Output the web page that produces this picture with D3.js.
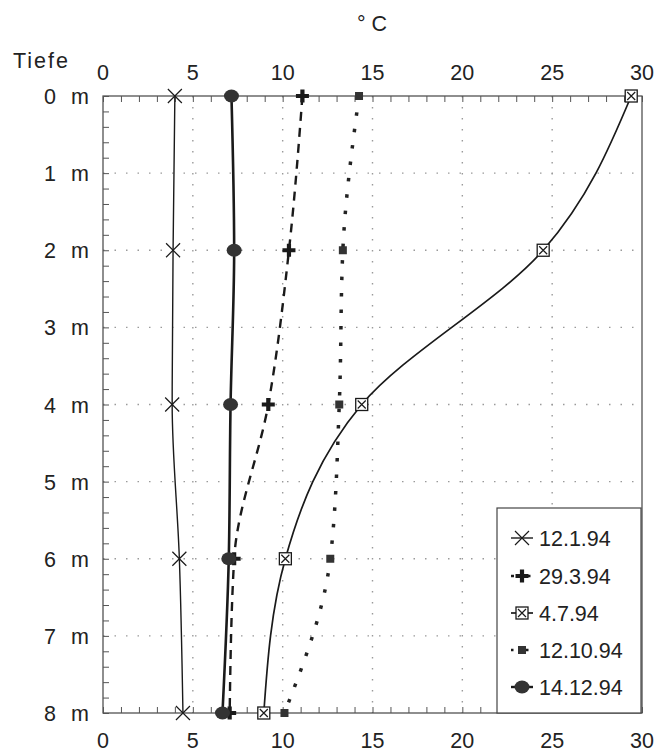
<!DOCTYPE html>
<html>
<head>
<meta charset="utf-8">
<script src="https://cdn.jsdelivr.net/npm/d3@7"></script>
<style>
  html, body { margin: 0; padding: 0; background: #fff; }
  text { font-family: "Liberation Sans", Arial, Helvetica, sans-serif; fill: #222; }
</style>
</head>
<body>
<svg id="chart" width="668" height="754"></svg>
<script>
// ---- data ----
const depths = [0, 2, 4, 6, 8];
const seriesNames = ["12.1.94", "29.3.94", "4.7.94", "12.10.94", "14.12.94"];
const t_12_1_94  = [4.0, 3.9, 3.85, 4.25, 4.45];
const t_29_3_94  = [11.1, 10.35, 9.2, 7.3, 7.05];
const t_4_7_94   = [29.4, 24.5, 14.4, 10.15, 8.95];
const t_12_10_94 = [14.25, 13.35, 13.15, 12.65, 10.1];
const t_14_12_94 = [7.15, 7.3, 7.1, 7.0, 6.65];
const xTickLabels = [0, 5, 10, 15, 20, 25, 30];
const depthTickLabels = [0, 1, 2, 3, 4, 5, 6, 7, 8];
const unitLabel = "° C";
const depthTitle = "Tiefe";

// ---- setup ----
const svg = d3.select("#chart");
const x = d3.scaleLinear().domain([0, 30]).range([103, 642]);
const y = d3.scaleLinear().domain([0, 8]).range([96, 713]);
const ink = "#1a1a1a";

// grid
const grid = svg.append("g");
grid.selectAll("line.v").data([5, 10, 15, 20, 25]).join("line")
  .attr("x1", d => x(d)).attr("x2", d => x(d))
  .attr("y1", y(0)).attr("y2", y(8))
  .attr("stroke", "#9a9a9a").attr("stroke-width", 1.4)
  .attr("stroke-dasharray", "1.5,9.5");
grid.selectAll("line.h").data([1, 2, 3, 4, 5, 6, 7]).join("line")
  .attr("x1", x(0)).attr("x2", x(30))
  .attr("y1", d => y(d)).attr("y2", d => y(d))
  .attr("stroke", "#9a9a9a").attr("stroke-width", 1.4)
  .attr("stroke-dasharray", "1.5,10");

// frame
svg.append("rect")
  .attr("x", x(0)).attr("y", y(0))
  .attr("width", x(30) - x(0)).attr("height", y(8) - y(0))
  .attr("fill", "none").attr("stroke", "#444").attr("stroke-width", 1.2);

// minor ticks (inward)
function styleAxis(g) {
  g.select(".domain").remove();
  g.selectAll(".tick line").attr("stroke", "#555").attr("stroke-width", 1);
}
svg.append("g").attr("transform", `translate(0,${y(0)})`)
  .call(d3.axisTop(x).tickValues(d3.range(0, 31, 1)).tickSize(-6).tickFormat(""))
  .call(styleAxis);
svg.append("g").attr("transform", `translate(0,${y(8)})`)
  .call(d3.axisBottom(x).tickValues(d3.range(0, 31, 1)).tickSize(-6).tickFormat(""))
  .call(styleAxis);
svg.append("g").attr("transform", `translate(${x(0)},0)`)
  .call(d3.axisLeft(y).tickValues(d3.range(0, 41, 1).map(i => i * 0.2)).tickSize(-6).tickFormat(""))
  .call(styleAxis);

// tick labels
const fs = 21.5;
svg.append("g").selectAll("text").data(xTickLabels).join("text")
  .attr("x", d => x(d)).attr("y", 80)
  .attr("text-anchor", "middle").attr("font-size", fs).text(d => d);
svg.append("g").selectAll("text").data(xTickLabels).join("text")
  .attr("x", d => x(d)).attr("y", 748)
  .attr("text-anchor", "middle").attr("font-size", fs).text(d => d);
const dl = svg.append("g").selectAll("g").data(depthTickLabels).join("g");
dl.append("text").attr("x", 56).attr("y", d => y(d) + 8)
  .attr("text-anchor", "end").attr("font-size", fs).text(d => d);
dl.append("text").attr("x", 71).attr("y", d => y(d) + 8)
  .attr("text-anchor", "start").attr("font-size", fs).attr("textLength", 24).text("m");

svg.append("text").attr("x", 372).attr("y", 31).attr("text-anchor", "middle")
  .attr("font-size", fs).text(unitLabel);
svg.append("text").attr("x", 13).attr("y", 68).attr("font-size", fs)
  .attr("textLength", 55).text(depthTitle);

// ---- series ----
const series = [
  { name: seriesNames[0], vals: t_12_1_94,  width: 1.4, dash: null,      marker: "x" },
  { name: seriesNames[1], vals: t_29_3_94,  width: 2.4, dash: "9,7",     marker: "plus" },
  { name: seriesNames[2], vals: t_4_7_94,   width: 1.7, dash: null,      marker: "boxx" },
  { name: seriesNames[3], vals: t_12_10_94, width: 3.5, dash: "3.5,13",  marker: "sq" },
  { name: seriesNames[4], vals: t_14_12_94, width: 2.6, dash: null,      marker: "dot" }
];

const line = d3.line()
  .x(d => x(d.t)).y(d => y(d.d))
  .curve(d3.curveMonotoneY);

function drawMarker(g, type, cx, cy) {
  const m = g.append("g").attr("transform", `translate(${cx},${cy})`);
  if (type === "x") {
    m.append("path").attr("d", "M-7,-7L7,7M-7,7L7,-7")
      .attr("stroke", ink).attr("stroke-width", 1.2).attr("fill", "none");
  } else if (type === "plus") {
    m.append("path").attr("d", "M-6.5,0H6.5M0,-6.5V6.5")
      .attr("stroke", ink).attr("stroke-width", 4.2).attr("fill", "none");
  } else if (type === "boxx") {
    m.append("rect").attr("x", -6).attr("y", -6).attr("width", 12).attr("height", 12)
      .attr("fill", "#fff").attr("stroke", ink).attr("stroke-width", 1.3);
    m.append("path").attr("d", "M-4,-4L4,4M-4,4L4,-4")
      .attr("stroke", ink).attr("stroke-width", 1.2);
  } else if (type === "sq") {
    m.append("rect").attr("x", -4).attr("y", -4).attr("width", 8).attr("height", 8)
      .attr("fill", "#333");
  } else if (type === "dot") {
    m.append("ellipse").attr("rx", 7.5).attr("ry", 6.5).attr("fill", "#333");
  }
}

const sg = svg.append("g");
series.forEach(s => {
  const pts = depths.map((d, i) => ({ d: d, t: s.vals[i] }));
  sg.append("path").datum(pts).attr("d", line)
    .attr("fill", "none").attr("stroke", s.marker === "sq" ? "#222" : ink)
    .attr("stroke-width", s.width)
    .attr("stroke-dasharray", s.dash);
});
series.forEach(s => {
  depths.forEach((d, i) => drawMarker(sg, s.marker, x(s.vals[i]), y(d)));
});

// ---- legend ----
const lg = svg.append("g");
lg.append("rect").attr("x", 497).attr("y", 508).attr("width", 144).attr("height", 205)
  .attr("fill", "#fff").attr("stroke", "#444").attr("stroke-width", 1.2);
const ly = [538, 576, 613, 650, 687];
series.forEach((s, i) => {
  lg.append("line").attr("x1", 511).attr("x2", 533).attr("y1", ly[i]).attr("y2", ly[i])
    .attr("stroke", ink).attr("stroke-width", Math.min(s.width, 2.4))
    .attr("stroke-dasharray", s.marker === "sq" ? "2.5,5" : (s.dash ? "3,2.5" : null));
  drawMarker(lg, s.marker, 522, ly[i]);
  lg.append("text").attr("x", 539).attr("y", ly[i] + 8).attr("font-size", fs).text(s.name);
});
</script>
</body>
</html>
